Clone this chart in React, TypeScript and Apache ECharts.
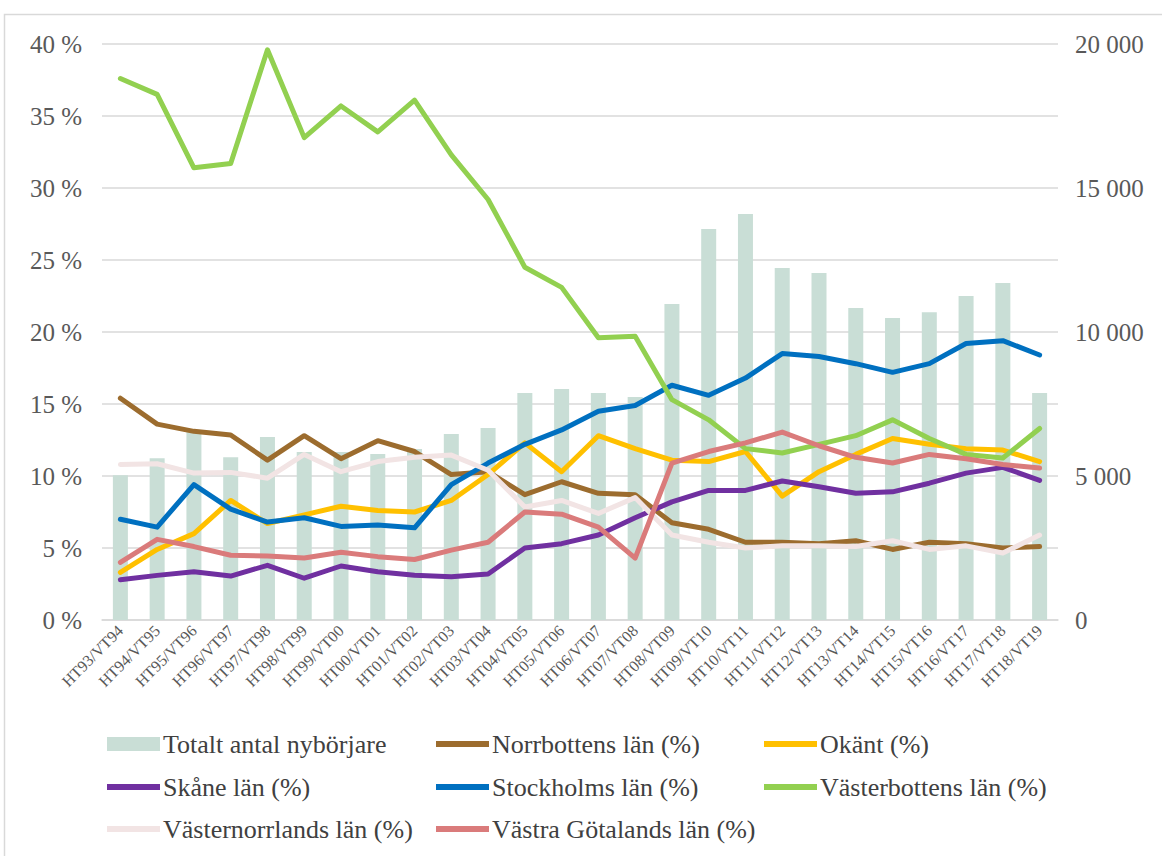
import React, { useEffect, useRef } from "react";
import * as echarts from "echarts";

const categories = [
  "HT93/VT94", "HT94/VT95", "HT95/VT96", "HT96/VT97", "HT97/VT98", "HT98/VT99",
  "HT99/VT00", "HT00/VT01", "HT01/VT02", "HT02/VT03", "HT03/VT04", "HT04/VT05",
  "HT05/VT06", "HT06/VT07", "HT07/VT08", "HT08/VT09", "HT09/VT10", "HT10/VT11",
  "HT11/VT12", "HT12/VT13", "HT13/VT14", "HT14/VT15", "HT15/VT16", "HT16/VT17",
  "HT17/VT18", "HT18/VT19",
];

const totalt = [
  5030, 5620, 6550, 5650, 6350, 5830, 5830, 5760, 5940, 6460, 6670, 7880, 8020,
  7880, 7740, 10970, 13580, 14100, 12220, 12050, 10830, 10490, 10690, 11250, 11700, 7880,
];
const norrbotten = [
  15.4, 13.6, 13.1, 12.85, 11.1, 12.8, 11.2, 12.45, 11.7, 10.1, 10.3, 8.7, 9.6,
  8.8, 8.7, 6.75, 6.3, 5.4, 5.4, 5.3, 5.5, 4.9, 5.4, 5.3, 5.0, 5.1,
];
const okant = [
  3.3, 4.9, 6.0, 8.3, 6.7, 7.3, 7.9, 7.6, 7.5, 8.3, 10.1, 12.3, 10.3, 12.8, 11.9,
  11.1, 11.0, 11.7, 8.6, 10.3, 11.5, 12.6, 12.2, 11.9, 11.8, 11.0,
];
const skane = [
  2.8, 3.1, 3.35, 3.05, 3.8, 2.9, 3.75, 3.35, 3.1, 3.0, 3.2, 5.0, 5.3, 5.9, 7.1,
  8.2, 9.0, 9.0, 9.65, 9.25, 8.8, 8.9, 9.5, 10.2, 10.6, 9.7,
];
const stockholm = [
  7.0, 6.45, 9.4, 7.7, 6.8, 7.1, 6.5, 6.6, 6.4, 9.4, 10.9, 12.2, 13.2, 14.5, 14.9,
  16.3, 15.6, 16.8, 18.5, 18.3, 17.8, 17.2, 17.8, 19.2, 19.4, 18.4,
];
const vasterbotten = [
  37.6, 36.5, 31.4, 31.7, 39.6, 33.5, 35.7, 33.9, 36.1, 32.3, 29.2, 24.5, 23.1,
  19.6, 19.7, 15.3, 13.9, 11.9, 11.6, 12.2, 12.8, 13.9, 12.6, 11.5, 11.25, 13.3,
];
const vasternorrland = [
  10.8, 10.85, 10.2, 10.25, 9.85, 11.5, 10.3, 11.0, 11.3, 11.45, 10.4, 7.85, 8.3,
  7.4, 8.5, 5.9, 5.4, 5.0, 5.15, 5.15, 5.1, 5.5, 4.9, 5.15, 4.65, 5.9,
];
const vastraGotaland = [
  4.0, 5.6, 5.1, 4.5, 4.45, 4.3, 4.7, 4.4, 4.2, 4.85, 5.4, 7.5, 7.35, 6.45, 4.3,
  10.9, 11.7, 12.3, 13.05, 12.1, 11.3, 10.9, 11.5, 11.2, 10.8, 10.55,
];

const leftTicks = [0, 5, 10, 15, 20, 25, 30, 35, 40];
const rightTicks = [0, 5000, 10000, 15000, 20000];

const FONT = "'Liberation Serif', 'DejaVu Serif', serif";
const TXT = "#595959";

const lineDefs = [
  { name: "Norrbottens län (%)", data: norrbotten, color: "#9C6C2E" },
  { name: "Okänt (%)", data: okant, color: "#FFC000" },
  { name: "Skåne län (%)", data: skane, color: "#7030A0" },
  { name: "Stockholms län (%)", data: stockholm, color: "#0070C0" },
  { name: "Västerbottens län (%)", data: vasterbotten, color: "#92D050" },
  { name: "Västernorrlands län (%)", data: vasternorrland, color: "#F2E4E4" },
  { name: "Västra Götalands län (%)", data: vastraGotaland, color: "#DA7B7B" },
];

const legendPos = [
  { left: 107, top: 731 },
  { left: 436, top: 731 },
  { left: 764, top: 731 },
  { left: 107, top: 774 },
  { left: 436, top: 774 },
  { left: 764, top: 774 },
  { left: 107, top: 816 },
  { left: 436, top: 816 },
];

function fmtThousands(v: number) {
  const s = String(Math.round(v));
  return s.replace(/\B(?=(\d{3})+(?!\d))/g, " ");
}

export default function App() {
  const ref = useRef<HTMLDivElement>(null);
  useEffect(() => {
    if (!ref.current) return;
    const chart = echarts.init(ref.current, null, { renderer: "svg" });
    const barName = "Totalt antal nybörjare";
    const allNames = [barName, ...lineDefs.map((l) => l.name)];
    const legends = allNames.map((n, i) => ({
      show: true,
      data: [n],
      left: legendPos[i].left,
      top: legendPos[i].top,
      icon: "rect",
      itemWidth: 53,
      itemHeight: i === 0 ? 14 : 6,
      itemGap: 0,
      padding: 0,
      selectedMode: false,
      textStyle: {
        fontFamily: FONT,
        fontSize: 26,
        lineHeight: 26,
        color: "#404040",
        padding: [0, 0, 0, -2],
      },
    }));
    chart.setOption({
      animation: false,
      backgroundColor: "#ffffff",
      textStyle: { fontFamily: FONT },
      graphic: [
        {
          type: "rect",
          shape: { x: 4.5, y: 14.5, width: 1200, height: 900 },
          style: { fill: "none", stroke: "#D9D9D9", lineWidth: 1.5 },
          silent: true,
        },
      ],
      legend: legends,
      grid: { left: 102, right: 104, top: 44, bottom: 236 },
      xAxis: {
        type: "category",
        data: categories,
        axisTick: { show: false },
        axisLine: { lineStyle: { color: "#D9D9D9", width: 1.5 } },
        axisLabel: {
          rotate: 45,
          interval: 0,
          fontFamily: FONT,
          fontSize: 16,
          color: TXT,
          margin: 8,
        },
      },
      yAxis: [
        {
          type: "value",
          min: 0,
          max: 40,
          interval: 5,
          axisLine: { show: false },
          axisTick: { show: false },
          splitLine: { lineStyle: { color: "#D9D9D9", width: 1.5 } },
          axisLabel: {
            fontFamily: FONT,
            fontSize: 25,
            color: TXT,
            margin: 20,
            formatter: (v: number) => (leftTicks.includes(v) ? `${v} %` : ""),
          },
        },
        {
          type: "value",
          min: 0,
          max: 20000,
          interval: 5000,
          position: "right",
          axisLine: { show: false },
          axisTick: { show: false },
          splitLine: { show: false },
          axisLabel: {
            fontFamily: FONT,
            fontSize: 25,
            color: TXT,
            margin: 17,
            formatter: (v: number) => (rightTicks.includes(v) ? fmtThousands(v) : ""),
          },
        },
      ],
      series: [
        {
          name: barName,
          type: "bar",
          yAxisIndex: 1,
          data: totalt,
          barWidth: 15,
          itemStyle: { color: "#C9DED6" },
          z: 1,
        },
        ...lineDefs.map((l, i) => ({
          name: l.name,
          type: "line",
          yAxisIndex: 0,
          data: l.data,
          symbol: "none",
          showSymbol: false,
          lineStyle: { color: l.color, width: 5, join: "round", cap: "round" },
          itemStyle: { color: l.color },
          z: 2 + i,
        })),
      ],
    });
    return () => chart.dispose();
  }, []);
  return (
    <div
      ref={ref}
      style={{ position: "fixed", left: 0, top: 0, width: 1162, height: 856 }}
    />
  );
}
